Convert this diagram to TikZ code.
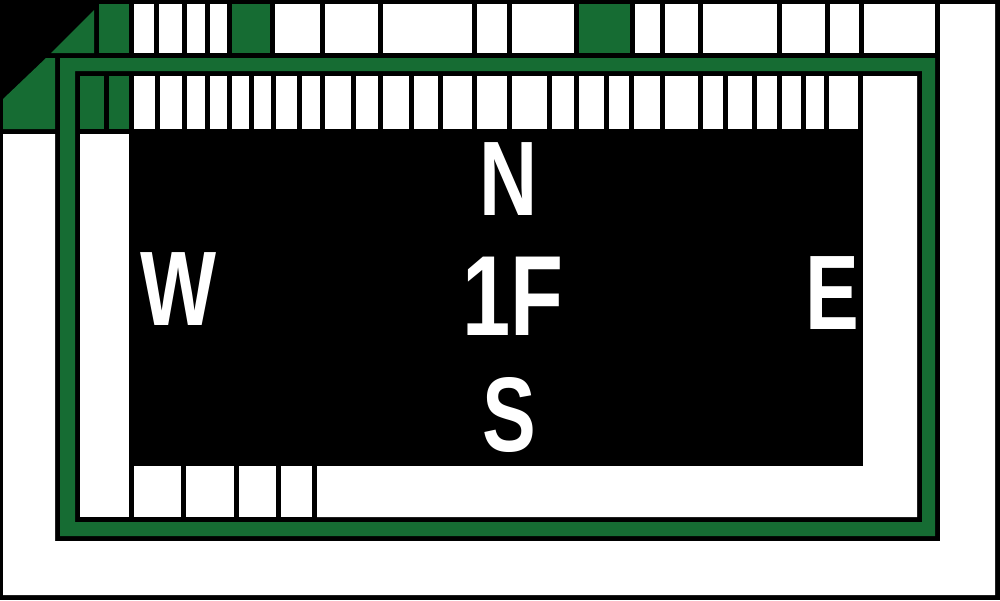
\documentclass[tikz,border=0pt]{standalone}
\usepackage{fontspec}
\newfontfamily\SignFont[FakeStretch=0.76]{Liberation Sans}
\definecolor{SignGreen}{RGB}{22,108,51}
\tikzset{
  CellStyle/.style = {fill=white},
  GreenStyle/.style = {fill=SignGreen},
  LabelStyle/.style = {text=white, inner sep=0pt,
                       font=\SignFont\bfseries\fontsize{106}{106}\selectfont} }

\begin{document}
\begin{tikzpicture}[x=1pt,y=-1pt]
  \useasboundingbox (0,0) rectangle (1000,600);
  \fill[black] (0,0) rectangle (1000,600);
  \fill[CellStyle] (3,134) -- (55,134) -- (55,541) -- (940,541) -- (940,4)
    -- (995,4) -- (995,595) -- (3,595) -- cycle;
  \fill[GreenStyle] (51,53) -- (94,10) -- (94,53) -- cycle;
  \fill[GreenStyle] (3,129) -- (3,99) -- (46,58) -- (55,58) -- (55,129) -- cycle;
  \fill[GreenStyle, even odd rule] (60,58) rectangle (935,536) (75,71) rectangle (922,522);
  \foreach \a/\b in {134/154,159/182,187/205,210/227,275/320,325/378,383/472,
    477/507,512/574,635/660,665/698,703/777,782/825,830/859,864/935}
    \fill[CellStyle] (\a,4) rectangle (\b,53);
  \foreach \a/\b in {99/129,232/270,579/630}
    \fill[GreenStyle] (\a,4) rectangle (\b,53);
  \foreach \a/\b in {134/155,160/182,187/205,210/227,232/249,254/271,276/297,
    302/320,325/351,356/378,383/409,414/438,443/472,477/507,512/547,552/574,
    579/604,609/629,634/660,665/698,703/723,728/752,757/777,782/801,806/824,829/858}
    \fill[CellStyle] (\a,76) rectangle (\b,129);
  \foreach \a/\b in {80/104,109/129}
    \fill[GreenStyle] (\a,76) rectangle (\b,129);
  \fill[CellStyle] (80,134) rectangle (129,517);
  \foreach \a/\b in {134/181,186/234,239/276,281/312}
    \fill[CellStyle] (\a,466) rectangle (\b,517);
  \fill[CellStyle] (317,466) -- (863,466) -- (863,76) -- (917,76) -- (917,517)
    -- (317,517) -- cycle;
  \node[LabelStyle] (north) at (509,179) {N};
  \node[LabelStyle] (floor) at (513,296) {\fontsize{114}{114}\selectfont 1F};
  \node[LabelStyle] (south) at (509,415) {S};
  \node[LabelStyle] (west) at (179,289) {W};
  \node[LabelStyle] (east) at (832,293) {E};
\end{tikzpicture}
\end{document}
